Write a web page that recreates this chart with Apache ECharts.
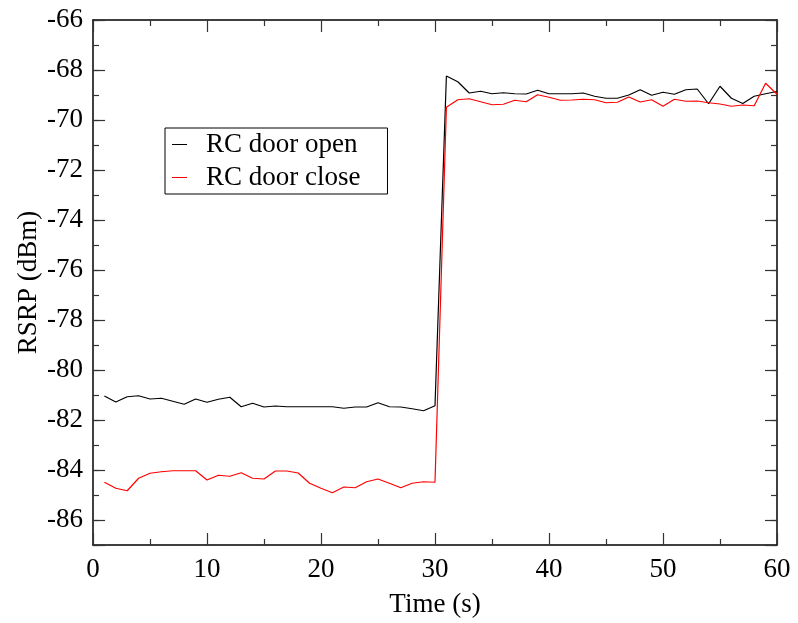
<!DOCTYPE html>
<html>
<head>
<meta charset="utf-8">
<script src="https://cdn.jsdelivr.net/npm/echarts@6/dist/echarts.min.js"></script>
<style>
html,body{margin:0;padding:0;background:#fff;}
#chart{width:798px;height:623px;}
</style>
</head>
<body>
<div id="chart"></div>
<script>
const times = [1,2,3,4,5,6,7,8,9,10,11,12,13,14,15,16,17,18,19,20,21,22,23,24,25,26,27,28,29,30,
  31,32,33,34,35,36,37,38,39,40,41,42,43,44,45,46,47,48,49,50,51,52,53,54,55,56,57,58,59,60];
const doorOpen = [-81.04,-81.28,-81.07,-81.03,-81.16,-81.13,-81.25,-81.37,-81.16,-81.29,
  -81.17,-81.09,-81.47,-81.33,-81.48,-81.44,-81.47,-81.47,-81.47,-81.47,
  -81.47,-81.53,-81.48,-81.48,-81.31,-81.47,-81.48,-81.55,-81.63,-81.43,
  -68.24,-68.47,-68.92,-68.85,-68.95,-68.91,-68.95,-68.96,-68.81,-68.95,
  -68.95,-68.95,-68.92,-69.05,-69.13,-69.13,-69.00,-68.79,-69.01,-68.89,
  -68.97,-68.79,-68.76,-69.35,-68.65,-69.13,-69.34,-69.05,-68.95,-68.86];
const doorClose = [-84.49,-84.73,-84.83,-84.33,-84.13,-84.07,-84.03,-84.03,-84.03,-84.40,
  -84.21,-84.25,-84.11,-84.33,-84.36,-84.04,-84.04,-84.12,-84.53,-84.73,
  -84.91,-84.68,-84.71,-84.47,-84.36,-84.53,-84.71,-84.53,-84.47,-84.49,
  -69.49,-69.19,-69.15,-69.27,-69.39,-69.37,-69.21,-69.27,-68.99,-69.09,
  -69.21,-69.20,-69.17,-69.19,-69.31,-69.29,-69.08,-69.28,-69.19,-69.45,
  -69.17,-69.25,-69.24,-69.31,-69.36,-69.45,-69.40,-69.43,-68.53,-68.97];
const seriesNames = ['RC door open', 'RC door close'];
const xTickLabels = [0,10,20,30,40,50,60];

const FONT = 'Liberation Serif';
const FS = 27;
const axisLine = {show: true, lineStyle: {color: '#000', width: 1.5}};
const tickStyle = {color: '#333', width: 1.2};

function xAxisDef(pos, labels) {
  return {
    type: 'value', position: pos, min: 0, max: 60, interval: 10,
    axisLine: axisLine,
    axisTick: {show: true, inside: true, length: 12, lineStyle: tickStyle},
    minorTick: {show: true, splitNumber: 2, length: 6, lineStyle: tickStyle},
    splitLine: {show: false}, minorSplitLine: {show: false},
    axisLabel: {show: labels, margin: 11, fontFamily: FONT, fontSize: FS, color: '#000',
      formatter: v => (xTickLabels.indexOf(v) >= 0 ? String(v) : '')},
    name: labels ? 'Time (s)' : '', nameLocation: 'middle', nameGap: 46,
    nameTextStyle: {fontFamily: FONT, fontSize: FS, color: '#000'}
  };
}
function yMajor(pos, labels) {
  return {
    type: 'value', position: pos, min: -87, max: -66, splitNumber: 10,
    axisLine: axisLine,
    axisTick: {show: true, inside: true, length: 12, lineStyle: tickStyle},
    splitLine: {show: false},
    axisLabel: {show: labels, margin: 10, fontFamily: FONT, fontSize: FS, color: '#000',
      formatter: v => (Math.round(v) % 2 === 0 ? String(v) : '')},
    name: labels ? 'RSRP (dBm)' : '', nameLocation: 'middle', nameGap: 51,
    nameMoveOverlap: false,
    nameTextStyle: {fontFamily: FONT, fontSize: FS, color: '#000'}
  };
}
function yMinor(pos) {
  return {
    type: 'value', position: pos, min: -87, max: -66, interval: 1,
    axisLine: {show: false},
    axisTick: {show: true, inside: true, length: 6, lineStyle: tickStyle},
    splitLine: {show: false},
    axisLabel: {show: false}
  };
}

const chart = echarts.init(document.getElementById('chart'), null, {renderer: 'canvas'});
chart.setOption({
  backgroundColor: '#fff',
  animation: false,
  grid: {left: 93, right: 21, top: 20, bottom: 78, containLabel: false, outerBoundsMode: 'none'},
  xAxis: [xAxisDef('bottom', true), xAxisDef('top', false)],
  yAxis: [yMajor('left', true), yMinor('left'), yMajor('right', false), yMinor('right')],
  legend: {
    orient: 'vertical', left: 165, top: 128,
    padding: [0, 27, 0, 7], itemGap: 0,
    icon: 'rect', itemWidth: 15, itemHeight: 1,
    backgroundColor: '#fff', borderColor: '#000', borderWidth: 1, borderRadius: 0,
    textStyle: {fontFamily: FONT, fontSize: FS, color: '#000', lineHeight: 33, padding: [0, 0, 0, 14]},
    data: seriesNames
  },
  series: [
    {name: seriesNames[0], type: 'line', symbol: 'none', xAxisIndex: 0, yAxisIndex: 0,
     lineStyle: {color: '#000', width: 1.2}, itemStyle: {color: '#000'},
     data: times.map((t, i) => [t, doorOpen[i]])},
    {name: seriesNames[1], type: 'line', symbol: 'none', xAxisIndex: 0, yAxisIndex: 0,
     lineStyle: {color: '#ff0000', width: 1.2}, itemStyle: {color: '#ff0000'},
     data: times.map((t, i) => [t, doorClose[i]])}
  ]
});
</script>
</body>
</html>
